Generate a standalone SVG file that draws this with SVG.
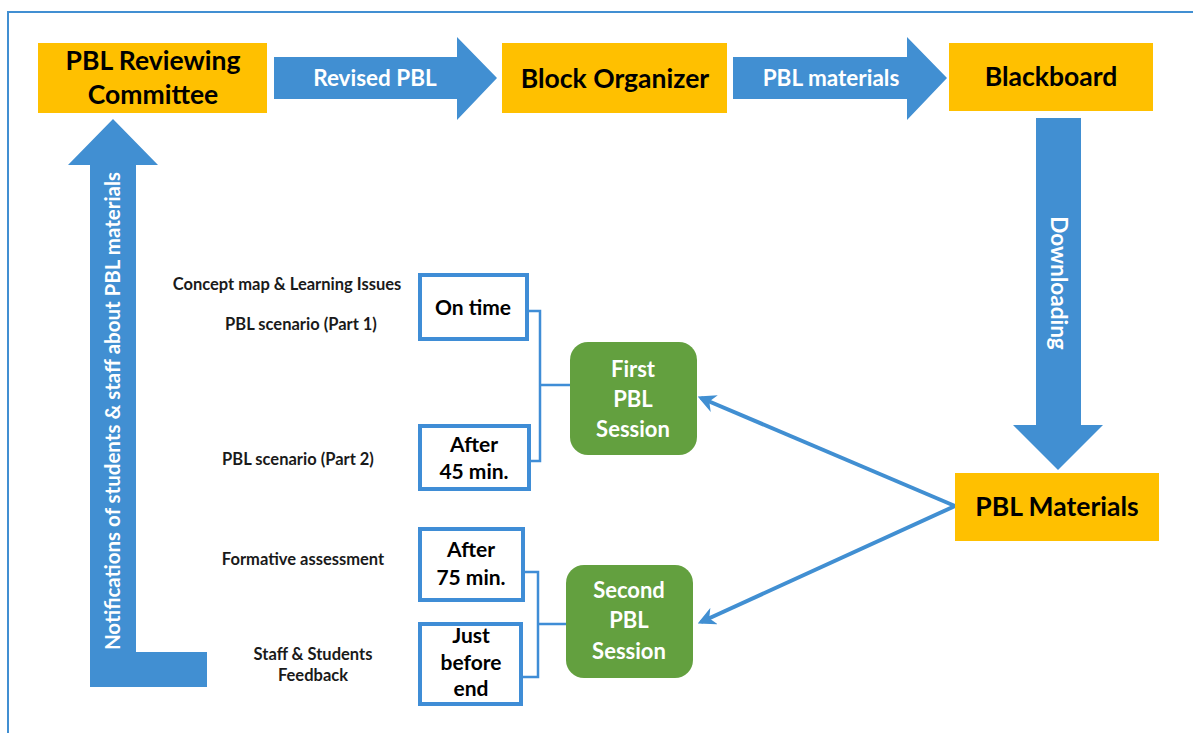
<svg xmlns="http://www.w3.org/2000/svg" width="1193" height="733" viewBox="0 0 1193 733">
<defs>
<style>
.t{font-family:Lato,"Liberation Sans",sans-serif;font-weight:bold;text-anchor:middle}
.org{fill:#FFC000}
.blu{fill:#418FD2}
.grn{fill:#63A03F}
.wbox{fill:#fff;stroke:#3F8DD6;stroke-width:4}
.br{fill:none;stroke:#3F8DD6;stroke-width:2.5}
.lbl{font-size:26.5px;fill:#000}
.al{font-size:22.5px;fill:#fff}
.sm{font-size:16.5px;fill:#1a1a1a}
.bx{font-size:21px;fill:#000}
.gs{font-size:22px;fill:#fff}
.con{fill:none;stroke:#418FD2;stroke-width:4}
</style>
<marker id="ah" viewBox="0 0 10 10" refX="8" refY="5" markerWidth="4.5" markerHeight="4.5" orient="auto">
<path d="M0,0 L10,5 L0,10 L3,5 Z" fill="#418FD2"/>
</marker>
</defs>
<rect x="0" y="0" width="1193" height="733" fill="#fff"/>
<rect x="8" y="12" width="1200" height="740" fill="none" stroke="#418FD2" stroke-width="2"/>

<g id="connectors">
<g id="arrow-revised">
<polygon class="blu" points="274,57 457,57 457,37 497,78 457,120 457,99 274,99"/>
<text class="t al" x="375" y="86">Revised PBL</text>
</g>
<g id="arrow-materials">
<polygon class="blu" points="733,57 907,57 907,37 947,78 907,120 907,99 733,99"/>
<text class="t al" x="831" y="86">PBL materials</text>
</g>
<g id="arrow-downloading">
<polygon class="blu" points="1036,118 1081,118 1081,425 1103,425 1058,470 1013,425 1036,425"/>
<text class="t al" transform="translate(1051,283) rotate(90)" x="0" y="0" font-size="21">Downloading</text>
</g>
<g id="arrow-notifications">
<polygon class="blu" points="113,119 158,165 136,165 136,652 207,652 207,687 90,687 90,165 68,165"/>
<text class="t al" transform="translate(120,411) rotate(-90)" x="0" y="0" style="font-size:20.5px">Notifications of students &amp; staff about PBL materials</text>
</g>
<path class="con" d="M955,506 L701,398" marker-end="url(#ah)"/>
<path class="con" d="M955,506 L701,622" marker-end="url(#ah)"/>
<path class="br" d="M529,311 H540 V461 H531 M540,385 H570"/>
<path class="br" d="M525,572 H538 V677 H523 M538,624 H566"/>
</g>

<g id="node-committee">
<rect class="org" x="38" y="43" width="229" height="70"/>
<text class="t lbl" x="153" y="70">PBL Reviewing</text>
<text class="t lbl" x="153" y="104">Committee</text>
</g>
<g id="node-block">
<rect class="org" x="502" y="43" width="225" height="70"/>
<text class="t lbl" x="615" y="88">Block Organizer</text>
</g>
<g id="node-blackboard">
<rect class="org" x="949" y="43" width="204" height="68"/>
<text class="t lbl" x="1051" y="86">Blackboard</text>
</g>
<g id="node-materials">
<rect class="org" x="955" y="473" width="204" height="68"/>
<text class="t lbl" x="1057" y="516">PBL Materials</text>
</g>
<g id="node-first">
<rect class="grn" x="570" y="342" width="127" height="113" rx="18"/>
<text class="t gs" x="633" y="377">First</text>
<text class="t gs" x="633" y="407">PBL</text>
<text class="t gs" x="633" y="437">Session</text>
</g>
<g id="node-second">
<rect class="grn" x="566" y="565" width="127" height="113" rx="18"/>
<text class="t gs" x="629" y="598">Second</text>
<text class="t gs" x="629" y="628">PBL</text>
<text class="t gs" x="629" y="659">Session</text>
</g>
<g id="node-ontime">
<rect class="wbox" x="420" y="275" width="107" height="64"/>
<text class="t bx" x="473" y="315">On time</text>
</g>
<g id="node-after45">
<rect class="wbox" x="420" y="426" width="109" height="63"/>
<text class="t bx" x="474" y="452">After</text>
<text class="t bx" x="474" y="479">45 min.</text>
</g>
<g id="node-after75">
<rect class="wbox" x="420" y="529" width="103" height="71"/>
<text class="t bx" x="471" y="557">After</text>
<text class="t bx" x="471" y="585">75 min.</text>
</g>
<g id="node-end">
<rect class="wbox" x="420" y="624" width="101" height="80"/>
<text class="t bx" x="471" y="643">Just</text>
<text class="t bx" x="471" y="670">before</text>
<text class="t bx" x="471" y="696">end</text>
</g>
<g id="labels">
<text class="t sm" x="287" y="290">Concept map &amp; Learning Issues</text>
<text class="t sm" x="301" y="330">PBL scenario (Part 1)</text>
<text class="t sm" x="298" y="465">PBL scenario (Part 2)</text>
<text class="t sm" x="303" y="565">Formative assessment</text>
<text class="t sm" x="313" y="660">Staff &amp; Students</text>
<text class="t sm" x="313" y="681">Feedback</text>
</g>
</svg>
